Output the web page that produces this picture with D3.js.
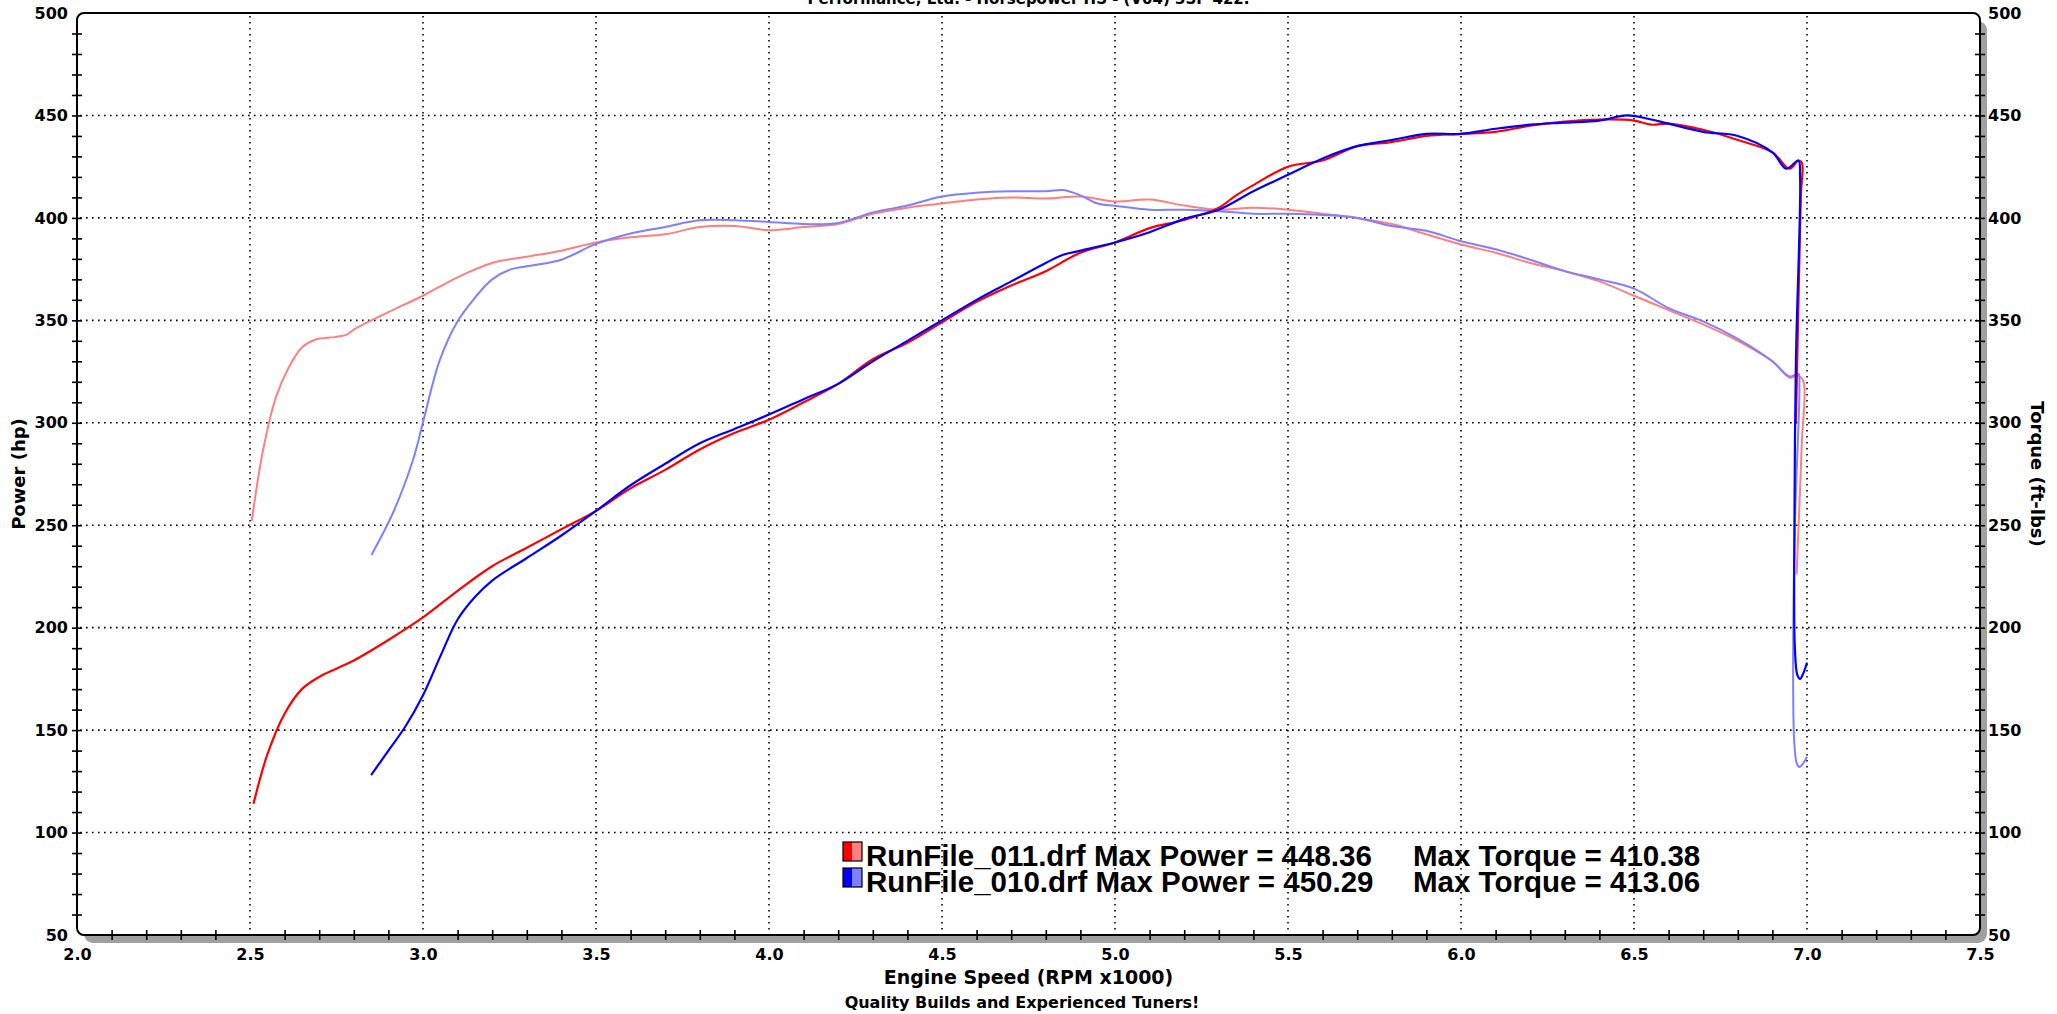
<!DOCTYPE html>
<html><head><meta charset="utf-8">
<script src="https://cdn.jsdelivr.net/npm/d3@7"></script>
<style>
body{margin:0;background:#fff}
svg{display:block}
text{font-family:"DejaVu Sans",Verdana,sans-serif;font-weight:bold;fill:#000}
</style>
</head><body>
<svg id="chart" width="2057" height="1014"></svg>
<script>
// ---------- data ----------
const xTickValues = [2.0,2.5,3.0,3.5,4.0,4.5,5.0,5.5,6.0,6.5,7.0,7.5];
const xTickLabels = ["2.0","2.5","3.0","3.5","4.0","4.5","5.0","5.5","6.0","6.5","7.0","7.5"];
const yTickValues = [50,100,150,200,250,300,350,400,450,500];
const yTickLabels = ["50","100","150","200","250","300","350","400","450","500"];

const runNames = ["RunFile_011.drf","RunFile_010.drf"];
const maxPower = ["448.36","450.29"];
const maxTorque = ["410.38","413.06"];

// RunFile_011 power (hp)
const red011PowerRpm = [2.51,2.55,2.6,2.65,2.7,2.75,2.8,2.9,3.0,3.1,3.2,3.3,3.4,3.5,3.6,3.7,3.8,3.9,4.0,4.1,4.2,4.3,4.4,4.5,4.6,4.7,4.8,4.9,5.0,5.1,5.2,5.3,5.35,5.4,5.5,5.6,5.7,5.8,5.9,6.0,6.1,6.2,6.3,6.4,6.5,6.55,6.6,6.7,6.8,6.9,6.95,6.975,6.985,6.982,6.968];
const red011PowerHp  = [114,138,158,170,176,180,184,194,205,218,230,239,248,257,268,277,287,295,301.5,310,319,331,339,349,359,367,374,383,388,395,399,405,411,416,425,428,435,437,440,441,442,445,447,448,447.5,445.5,446,443,438,432,424,428,427,410,300];

// RunFile_010 power (hp)
const blue010PowerRpm = [2.85,2.9,2.95,3.0,3.05,3.1,3.15,3.2,3.3,3.4,3.5,3.6,3.7,3.8,3.9,4.0,4.1,4.2,4.3,4.4,4.5,4.6,4.7,4.8,4.85,4.9,5.0,5.1,5.2,5.3,5.4,5.5,5.6,5.7,5.8,5.9,6.0,6.1,6.2,6.3,6.4,6.48,6.55,6.6,6.7,6.8,6.9,6.94,6.975,6.98,6.968,6.963,6.965,6.972,6.98,6.99,7.0];
const blue010PowerHp  = [128,140,152,167,186,204,215,223,234,245,257,269.5,280,290,297,304,311.5,319,330,340,350,360,369,378,382,384,388,393,399.5,404,413,421,429,435,438,441,441,443.5,445.5,446.5,447.5,450,448,446,442,440,432,424,428,420,330,230,190,177,175,178,183];

// RunFile_011 torque (ft-lbs)
const red011TorqueRpm = [2.505,2.537,2.574,2.612,2.65,2.688,2.745,2.78,2.8,2.9,3.0,3.1,3.2,3.3,3.4,3.5,3.6,3.7,3.8,3.9,4.0,4.1,4.2,4.3,4.4,4.5,4.6,4.7,4.8,4.9,5.0,5.1,5.2,5.3,5.4,5.5,5.6,5.7,5.8,5.9,6.0,6.1,6.2,6.3,6.4,6.5,6.6,6.7,6.8,6.9,6.95,6.975,6.99,6.985,6.97];
const red011TorqueFt  = [252,286,312,327,336.7,340.5,341.8,343,345.5,354,362,371,378,381,384,388,390.5,392,395.5,396,394,395.5,397,402,405,407,409,410,409.5,410.4,408,409,406,404,405,404,402,400,397,392,387,383,378,374,369,362,355,348,340,330,322,323,320,290,226];

// RunFile_010 torque (ft-lbs)
const blue010TorqueRpm = [2.851,2.915,2.972,3.0,3.048,3.1,3.15,3.2,3.256,3.3,3.4,3.5,3.6,3.7,3.8,3.9,4.0,4.1,4.2,4.3,4.4,4.5,4.6,4.7,4.8,4.85,4.9,4.95,5.0,5.1,5.2,5.3,5.4,5.5,5.6,5.7,5.8,5.9,6.0,6.1,6.2,6.3,6.4,6.5,6.6,6.7,6.8,6.9,6.95,6.975,6.978,6.965,6.96,6.963,6.97,6.978,6.99,7.0];
const blue010TorqueFt  = [235.5,256.7,282.3,300.2,330.3,349.5,361,370,375,376.4,379.6,387.3,392.4,395.6,398.8,398.8,398,397,397.5,402.7,406,410.4,412.3,413,413,413.6,411,407,405.9,404,404,403.3,402,402,401.4,400,396,393.7,388.6,384.7,379.6,374,370,365.5,356,349.5,341,330,322.6,324,318,250,170,145,134,132,134,137];

// ---------- layout ----------
const svg = d3.select("#chart");
const L = 77, R = 1980, T = 13, B = 935;
const x = d3.scaleLinear().domain([2.0, 7.5]).range([L, R]);
const y = d3.scaleLinear().domain([50, 500]).range([B, T]);

// title (clipped at top edge, as in the reference)
svg.append("text").attr("x", (L+R)/2).attr("y", 4).attr("text-anchor","middle")
  .style("font-size","15px").text("Performance, Ltd. - Horsepower HS - (V04) 3SP 422.");

// shadow + frame
svg.append("rect").attr("x", L+7).attr("y", T+8).attr("width", R-L).attr("height", B-T)
  .attr("rx", 9).attr("fill", "#a0a0a0");
svg.append("rect").attr("x", L).attr("y", T).attr("width", R-L).attr("height", B-T)
  .attr("rx", 7).attr("fill", "#fff");

// grid
const grid = svg.append("g").attr("stroke","#000").attr("stroke-width",1.6).attr("stroke-dasharray","1.6,4.4");
grid.selectAll("line.h").data(yTickValues.filter(v=>v>50 && v<500)).join("line")
  .attr("class","h").attr("x1", L+3).attr("x2", R-3).attr("y1", d=>y(d)).attr("y2", d=>y(d));
grid.selectAll("line.v").data(xTickValues.filter(v=>v>2 && v<7.5)).join("line")
  .attr("class","v").attr("y1", T+3).attr("y2", B-3).attr("x1", d=>x(d)).attr("x2", d=>x(d));

// minor ticks via axes
const yMinor = d3.range(60, 500, 10);
const xMinor = d3.range(21, 75, 1).map(d=>d/10);

const gl = svg.append("g").attr("transform",`translate(${L},0)`)
  .call(d3.axisLeft(y).tickValues(yMinor).tickSize(0).tickFormat(""));
gl.select(".domain").remove();
gl.selectAll(".tick line").attr("x1",-5).attr("x2",5).attr("stroke","#000").attr("stroke-width",1.6);

const gr = svg.append("g").attr("transform",`translate(${R},0)`)
  .call(d3.axisRight(y).tickValues(yMinor).tickSize(0).tickFormat(""));
gr.select(".domain").remove();
gr.selectAll(".tick line").attr("x1",-5).attr("x2",5).attr("stroke","#000").attr("stroke-width",1.6);

const gb = svg.append("g").attr("transform",`translate(0,${B})`)
  .call(d3.axisBottom(x).tickValues(xMinor.filter(v=>Math.abs(v*2-Math.round(v*2))>1e-6)).tickSize(0).tickFormat(""));
gb.select(".domain").remove();
gb.selectAll(".tick line").attr("y1",-5).attr("y2",5).attr("stroke","#000").attr("stroke-width",1.6);

// frame border on top
svg.append("rect").attr("x", L).attr("y", T).attr("width", R-L).attr("height", B-T)
  .attr("rx", 7).attr("fill", "none").attr("stroke","#000").attr("stroke-width",2);

// tick labels
const lab = svg.append("g").attr("transform",`translate(${L},0)`)
  .call(d3.axisLeft(y).tickValues(yTickValues).tickFormat((d,i)=>yTickLabels[i]).tickSize(0).tickPadding(9));
lab.select(".domain").remove();
lab.selectAll("text").style("font-size","16px").style("font-family","'DejaVu Sans',Verdana,sans-serif").attr("font-weight","bold");

const rab = svg.append("g").attr("transform",`translate(${R},0)`)
  .call(d3.axisRight(y).tickValues(yTickValues).tickFormat((d,i)=>yTickLabels[i]).tickSize(0).tickPadding(8));
rab.select(".domain").remove();
rab.selectAll("text").style("font-size","16px").style("font-family","'DejaVu Sans',Verdana,sans-serif").attr("font-weight","bold");

const bab = svg.append("g").attr("transform",`translate(0,${B})`)
  .call(d3.axisBottom(x).tickValues(xTickValues).tickFormat((d,i)=>xTickLabels[i]).tickSize(0).tickPadding(14));
bab.select(".domain").remove();
bab.selectAll("text").style("font-size","16px").style("font-family","'DejaVu Sans',Verdana,sans-serif").attr("font-weight","bold");

// axis titles
svg.append("text").attr("transform",`translate(25,${(T+B)/2}) rotate(-90)`).attr("text-anchor","middle")
  .style("font-size","18px").text("Power (hp)");
svg.append("text").attr("transform",`translate(2031,${(T+B)/2}) rotate(90)`).attr("text-anchor","middle")
  .style("font-size","18px").text("Torque (ft-lbs)");
svg.append("text").attr("x",(L+R)/2).attr("y",984).attr("text-anchor","middle")
  .style("font-size","19px").text("Engine Speed (RPM x1000)");
svg.append("text").attr("x",1022).attr("y",1008).attr("text-anchor","middle")
  .style("font-size","16px").text("Quality Builds and Experienced Tuners!");

// curves
const line = d3.line().x(d=>x(d[0])).y(d=>y(d[1])).curve(d3.curveCatmullRom.alpha(0.5));
const zip = (a,b)=>a.map((v,i)=>[v,b[i]]);
const series = [
  {rpm:red011TorqueRpm, val:red011TorqueFt, color:"#ff7f7f", w:2},
  {rpm:blue010TorqueRpm, val:blue010TorqueFt, color:"#7f7fff", w:2},
  {rpm:red011PowerRpm, val:red011PowerHp, color:"#ff0000", w:2.2},
  {rpm:blue010PowerRpm, val:blue010PowerHp, color:"#0000ff", w:2.2},
];
svg.append("g").selectAll("path").data(series).join("path")
  .attr("d", d=>line(zip(d.rpm,d.val))).attr("fill","none")
  .attr("stroke", d=>d.color).attr("stroke-width", d=>d.w).attr("stroke-linejoin","round");

// legend
const legColors = [["#ff0000","#ff8080"],["#0000ff","#8080ff"]];
const leg = svg.append("g");
[0,1].forEach(i=>{
  const yy = 842 + i*26;
  leg.append("rect").attr("x",843).attr("y",yy).attr("width",9.5).attr("height",19).attr("fill",legColors[i][0]);
  leg.append("rect").attr("x",852.5).attr("y",yy).attr("width",9.5).attr("height",19).attr("fill",legColors[i][1]);
  leg.append("rect").attr("x",843).attr("y",yy).attr("width",19).attr("height",19).attr("fill","none").attr("stroke","#000").attr("stroke-width",1.2);
  leg.append("text").attr("x",866).attr("y",yy+24).style("font-family","'Liberation Sans',Arial,sans-serif").style("font-size","29.5px")
    .text(`${runNames[i]} Max Power = ${maxPower[i]}`);
  leg.append("text").attr("x",1413).attr("y",yy+24).style("font-family","'Liberation Sans',Arial,sans-serif").style("font-size","29.5px")
    .text(`Max Torque = ${maxTorque[i]}`);
});
</script>
</body></html>
